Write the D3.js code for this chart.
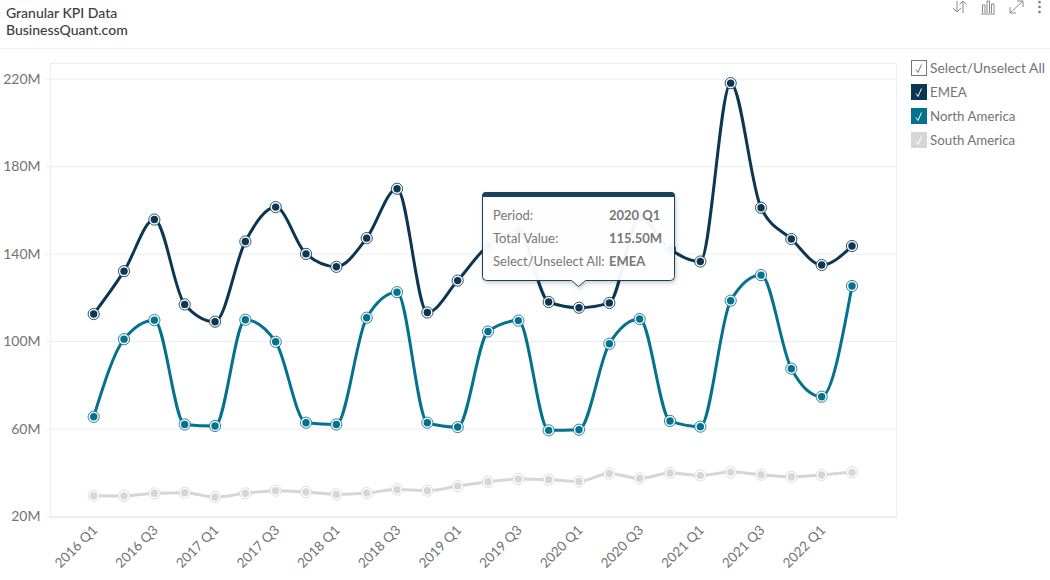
<!DOCTYPE html>
<html><head><meta charset="utf-8">
<script src="https://cdn.jsdelivr.net/npm/d3@7"></script>
<style>
html,body{margin:0;padding:0;background:#fff;overflow:hidden}
svg{display:block;font-family:Lato,sans-serif}
</style></head><body>
<svg id="c" width="1050" height="580"></svg>
<script>
const periods=["2016 Q1","2016 Q2","2016 Q3","2016 Q4","2017 Q1","2017 Q2","2017 Q3","2017 Q4","2018 Q1","2018 Q2","2018 Q3","2018 Q4","2019 Q1","2019 Q2","2019 Q3","2019 Q4","2020 Q1","2020 Q2","2020 Q3","2020 Q4","2021 Q1","2021 Q2","2021 Q3","2021 Q4","2022 Q1","2022 Q2"];
const emea=[112.6,132.2,155.8,117.0,109.1,145.8,161.5,140.1,134.2,147.3,169.9,113.3,127.9,143.9,150.2,118.1,115.5,117.7,156.6,142.3,136.6,218.2,161.2,146.9,135.0,143.7];
const northAmerica=[65.6,101.1,109.8,62.1,61.4,110.0,99.9,62.9,62.1,110.9,122.6,62.9,60.9,104.6,109.6,59.4,59.7,99.0,110.3,63.7,61.1,118.7,130.4,87.6,74.8,125.4];
const southAmerica=[29.5,29.4,30.6,30.9,28.9,30.6,31.8,31.2,30.1,30.7,32.4,31.8,33.9,35.9,37.1,36.8,36.0,39.7,37.4,39.9,38.8,40.3,39.1,38.2,39.0,40.2];
const yTicks=[20,60,100,140,180,220];
const seriesNames=["EMEA","North America","South America"];
const seriesColors=["#0b3754","#04718f","#d6d6d6"];
const seriesValues=[emea,northAmerica,southAmerica];
const legendLabels=["Select/Unselect All",...seriesNames];
const tooltipRows=[["Period:","2020 Q1"],["Total Value:","115.50M"],["Select/Unselect All:","EMEA"]];

const svg=d3.select("#c");
const L=50.5,R=896.5,T=63.5,B=517.5;
const x=d3.scalePoint().domain(periods).range([93.7,852]);
const y=d3.scaleLinear().domain([20,220]).range([516.5,79.2]);
const line="#eeeeee",txt="#737373";

// header
svg.append("text").attr("x",6).attr("y",18).attr("font-size",14).attr("font-weight",500).attr("fill","#3c3c3c").text("Granular KPI Data");
svg.append("text").attr("x",6).attr("y",35).attr("font-size",14).attr("font-weight",500).attr("fill","#3c3c3c").text("BusinessQuant.com");
svg.append("line").attr("x1",0).attr("x2",1050).attr("y1",48.5).attr("y2",48.5).attr("stroke","#f2f2f2");

// frame
svg.append("rect").attr("x",L).attr("y",T).attr("width",R-L).attr("height",B-T).attr("fill","none").attr("stroke",line);
svg.append("line").attr("x1",L).attr("x2",R).attr("y1",B-1).attr("y2",B-1).attr("stroke",line);

// y axis + grid
const gy=svg.append("g").attr("transform",`translate(${L},0)`)
 .call(d3.axisLeft(y).tickValues(yTicks).tickSize(5).tickPadding(5).tickFormat(d=>d+"M"));
gy.select(".domain").remove();
gy.selectAll("line").attr("stroke",line);
gy.selectAll("text").attr("font-family","Lato,sans-serif").attr("font-size",14).attr("fill",txt).attr("dy","0.3em");
svg.append("g").selectAll("line").data(yTicks).join("line")
 .attr("x1",L).attr("x2",R).attr("y1",d=>y(d)).attr("y2",d=>y(d)).attr("stroke",line);

// x axis
const gx=svg.append("g").attr("transform",`translate(0,${B})`)
 .call(d3.axisBottom(x).tickValues(periods.filter((d,i)=>i%2===0)).tickSize(0));
gx.select(".domain").remove();
gx.selectAll("text").attr("font-family","Lato,sans-serif").attr("font-size",13.5).attr("fill",txt)
 .attr("text-anchor","end").attr("dy",0).attr("y",0)
 .attr("transform","translate(4,13.5) rotate(-45)");

// series
const path=d3.line().x((d,i)=>x(periods[i])).y(d=>y(d)).curve(d3.curveMonotoneX);
[2,1,0].forEach(k=>{
  const g=svg.append("g");
  g.append("path").attr("d",path(seriesValues[k])).attr("fill","none").attr("stroke",seriesColors[k]).attr("stroke-width",3);
  const pts=g.selectAll("g").data(seriesValues[k]).join("g")
   .attr("transform",(d,i)=>`translate(${x(periods[i])},${y(d)})`);
  pts.append("circle").attr("r",5.6).attr("fill","#fff").attr("stroke",seriesColors[k]).attr("stroke-width",1).attr("stroke-opacity",.85);
  pts.append("circle").attr("r",3.7).attr("fill",seriesColors[k]);
});

// tooltip
const tt=svg.append("g");
const tx=482.5,ty=192.5,tw=192,th=88,ax=578.5;
const shape=`M${tx+4},${ty}H${tx+tw-4}Q${tx+tw},${ty} ${tx+tw},${ty+4}V${ty+th-4}Q${tx+tw},${ty+th} ${tx+tw-4},${ty+th}H${ax+7}L${ax},${ty+th+6}L${ax-7},${ty+th}H${tx+4}Q${tx},${ty+th} ${tx},${ty+th-4}V${ty+4}Q${tx},${ty} ${tx+4},${ty}Z`;
svg.append("defs").html(`<filter id="sh" x="-10%" y="-10%" width="120%" height="125%"><feDropShadow dx="1" dy="2" stdDeviation="2" flood-color="#000" flood-opacity=".22"/></filter>`);
tt.append("path").attr("d",shape).attr("fill","#fff").attr("fill-opacity",.94).attr("stroke","#17435f").attr("stroke-width",1).attr("filter","url(#sh)");
tt.append("path").attr("d",`M${tx},${ty+4}V${ty+3}Q${tx},${ty} ${tx+3},${ty}H${tx+tw-3}Q${tx+tw},${ty} ${tx+tw},${ty+3}V${ty+4}Z`).attr("fill","#17435f").attr("stroke","#17435f");
tooltipRows.forEach((r,i)=>{
  const yy=220+i*23;
  tt.append("text").attr("x",493).attr("y",yy).attr("font-size",13).attr("fill","#777").text(r[0]);
  tt.append("text").attr("x",609).attr("y",yy).attr("font-size",13).attr("font-weight",700).attr("fill","#777").text(r[1]);
});

// legend
const boxes=["#ffffff",...seriesColors];
legendLabels.forEach((d,i)=>{
  const yy=60+i*24;
  const g=svg.append("g").attr("transform",`translate(911,${yy})`);
  g.append("rect").attr("x",i?0:.5).attr("y",i?0:.5).attr("width",i?16:15).attr("height",i?16:15)
   .attr("fill",boxes[i]).attr("stroke",i?"none":"#777");
  g.append("path").attr("d","M5,9.5L7,12.5L10.5,4.5").attr("fill","none").attr("stroke",i?"#fff":"#777").attr("stroke-width",1);
  g.append("text").attr("x",19).attr("y",13).attr("font-size",i?13.3:13.8).attr("fill",txt).text(d);
});

// toolbar icons
const ic=svg.append("g").attr("fill","none").attr("stroke","#8a8a8a").attr("stroke-width",1);
ic.append("path").attr("d","M957,1V12M953,8L957,12L961,8M963,13V1M959.5,4.5L963,1L966.5,4.5");
ic.append("path").attr("d","M981,14H995M982.5,13V5H985V13M987,13V1H989.5V13M991.5,13V4H994V13");
ic.append("path").attr("d","M1010,13L1023,1M1017,1H1023V7M1010,7V13H1016");
svg.append("g").attr("fill","#777").selectAll("circle").data([2,7,12]).join("circle").attr("cx",1039.5).attr("cy",d=>d).attr("r",1.3);
</script>
</body></html>
